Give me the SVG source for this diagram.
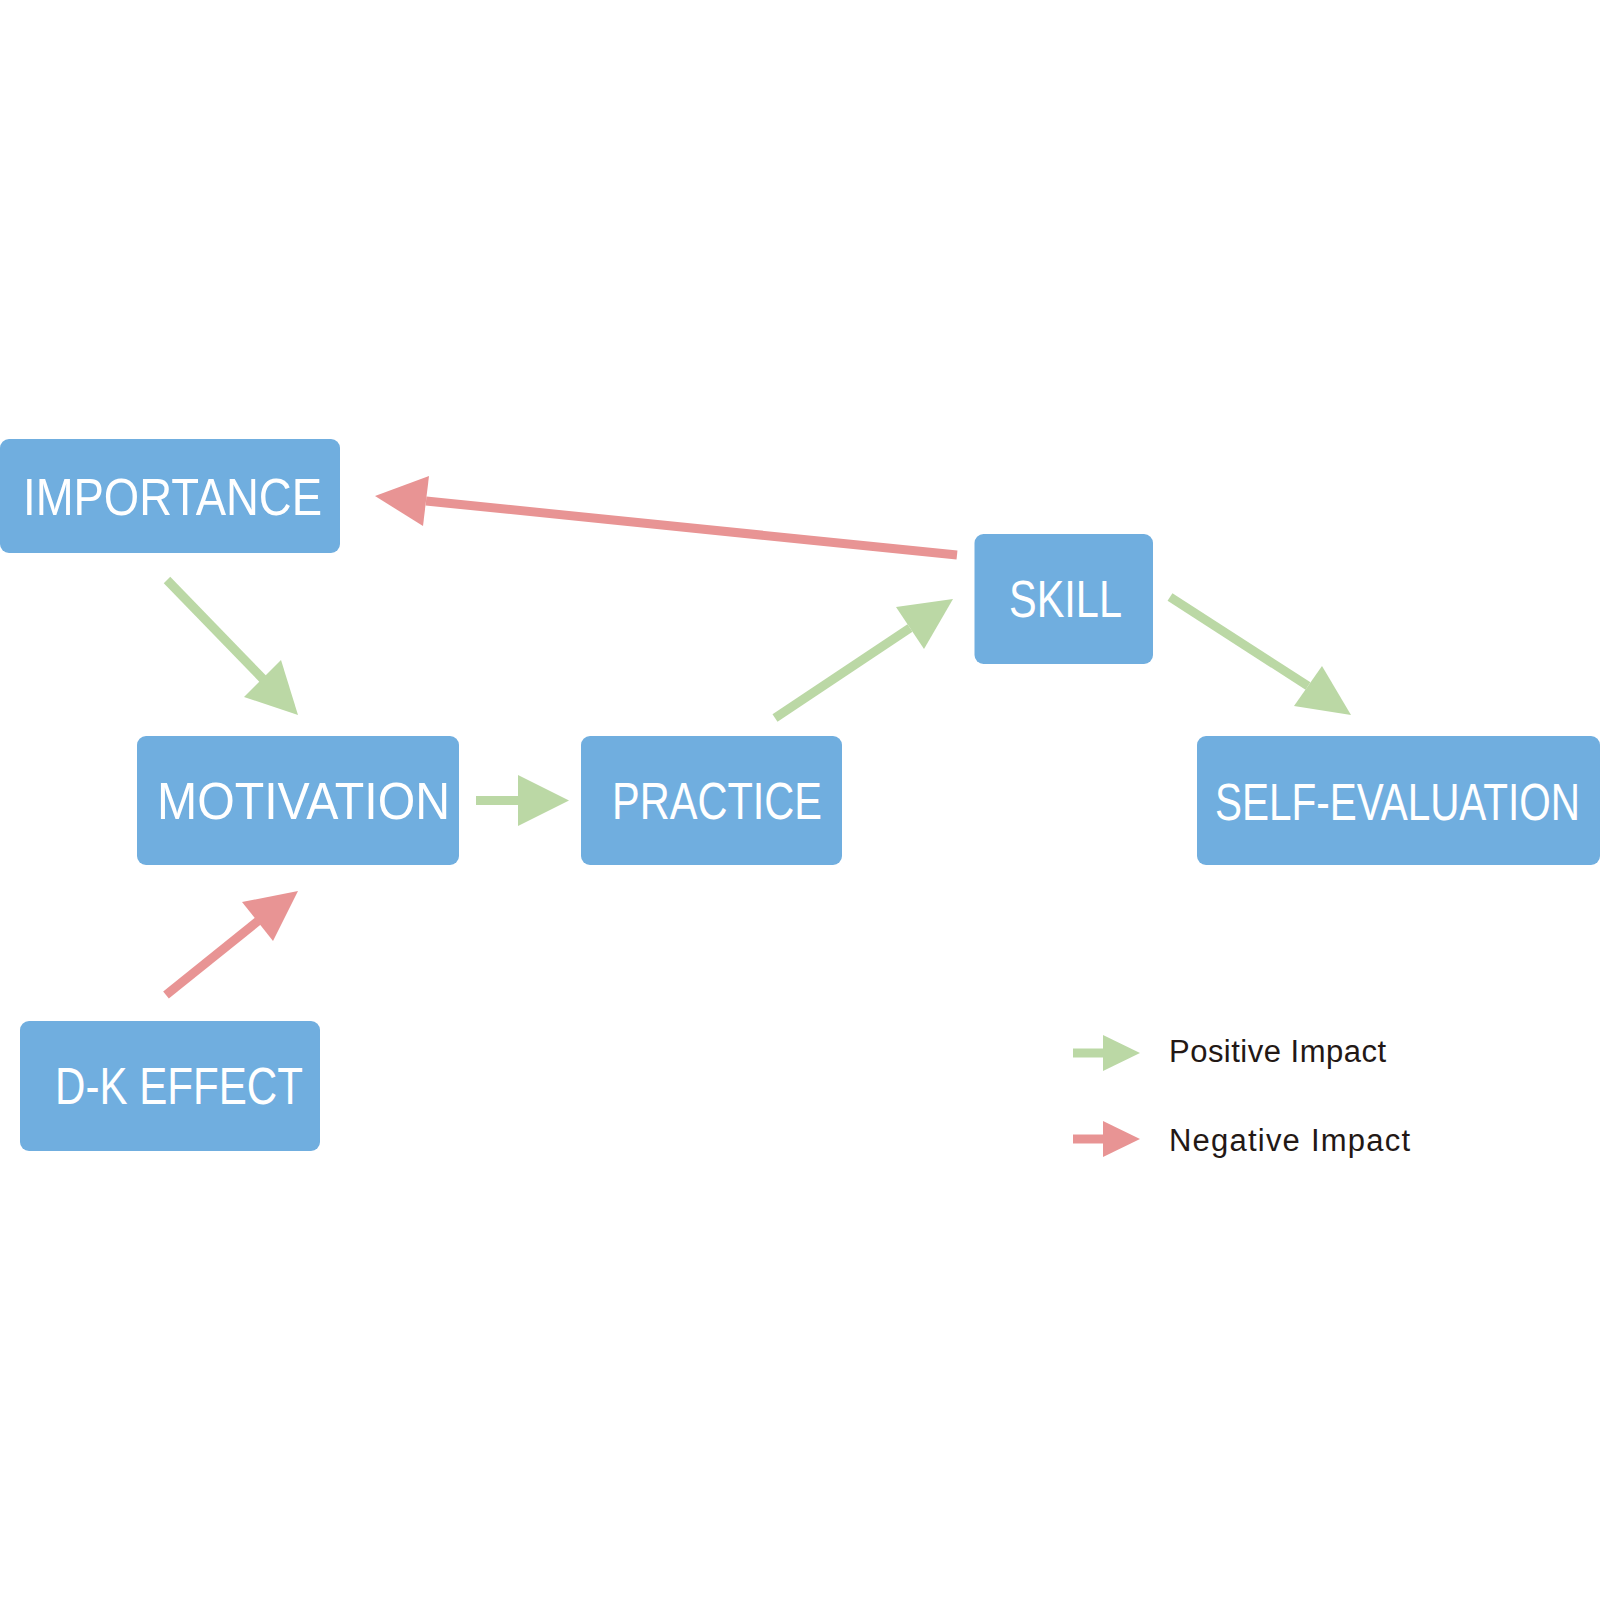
<svg xmlns="http://www.w3.org/2000/svg" width="1600" height="1600" viewBox="0 0 1600 1600">
<style>
.box{fill:#70AEDF;}
.lbl{fill:#FFFFFF;font-family:"Liberation Sans",Arial,sans-serif;font-size:52px;text-anchor:middle;}
.pos{stroke:#BBD8A5;stroke-width:9;fill:none;}
.posh{fill:#BBD8A5;}
.neg{stroke:#E89494;stroke-width:9;fill:none;}
.negh{fill:#E89494;}
.leg{fill:#231815;font-family:"Liberation Sans",Arial,sans-serif;font-size:31px;}
</style>
<rect width="1600" height="1600" fill="#FFFFFF"/>
<g id="connectors">
  <line class="pos" x1="167" y1="580" x2="263" y2="679"/>
  <polygon class="posh" points="298,715 244,697 281,660"/>
  <line class="pos" x1="476" y1="800.5" x2="519" y2="800.5"/>
  <polygon class="posh" points="569,800.5 518,775 518,826"/>
  <line class="pos" x1="775" y1="718" x2="910" y2="628"/>
  <polygon class="posh" points="953,599 896,607 924,649"/>
  <line class="pos" x1="1170" y1="597" x2="1308" y2="686"/>
  <polygon class="posh" points="1351,715 1294,706 1322,666"/>
  <line class="neg" x1="957" y1="555" x2="426" y2="501"/>
  <polygon class="negh" points="375,496 429,476 423,526"/>
  <line class="neg" x1="166" y1="995" x2="258" y2="921"/>
  <polygon class="negh" points="298,891 242,902 273,941"/>
</g>
<g id="node-importance">
  <rect class="box" x="0" y="439" width="340" height="114" rx="9"/>
  <text class="lbl" x="172.5" y="515" textLength="299" lengthAdjust="spacingAndGlyphs">IMPORTANCE</text>
</g>
<g id="node-motivation">
  <rect class="box" x="137" y="736" width="322" height="129" rx="9"/>
  <text class="lbl" x="303.5" y="819" textLength="293" lengthAdjust="spacingAndGlyphs">MOTIVATION</text>
</g>
<g id="node-practice">
  <rect class="box" x="581" y="736" width="261" height="129" rx="9"/>
  <text class="lbl" x="717" y="819" textLength="210" lengthAdjust="spacingAndGlyphs">PRACTICE</text>
</g>
<g id="node-skill">
  <rect class="box" x="974.5" y="534" width="178.5" height="130" rx="9"/>
  <text class="lbl" x="1065.5" y="617" textLength="113" lengthAdjust="spacingAndGlyphs">SKILL</text>
</g>
<g id="node-self-evaluation">
  <rect class="box" x="1197" y="736" width="403" height="129" rx="9"/>
  <text class="lbl" x="1397.5" y="820" textLength="365" lengthAdjust="spacingAndGlyphs">SELF-EVALUATION</text>
</g>
<g id="node-dk-effect">
  <rect class="box" x="20" y="1021" width="300" height="130" rx="9"/>
  <text class="lbl" x="179" y="1104" textLength="248" lengthAdjust="spacingAndGlyphs">D-K EFFECT</text>
</g>
<g id="legend">
  <line class="pos" x1="1073" y1="1053" x2="1104" y2="1053"/>
  <polygon class="posh" points="1140,1053 1103,1035 1103,1071"/>
  <text class="leg" x="1169" y="1062" textLength="217">Positive Impact</text>
  <line class="neg" x1="1073" y1="1139" x2="1104" y2="1139"/>
  <polygon class="negh" points="1140,1139 1103,1121 1103,1157"/>
  <text class="leg" x="1169" y="1151" textLength="241">Negative Impact</text>
</g>
</svg>
